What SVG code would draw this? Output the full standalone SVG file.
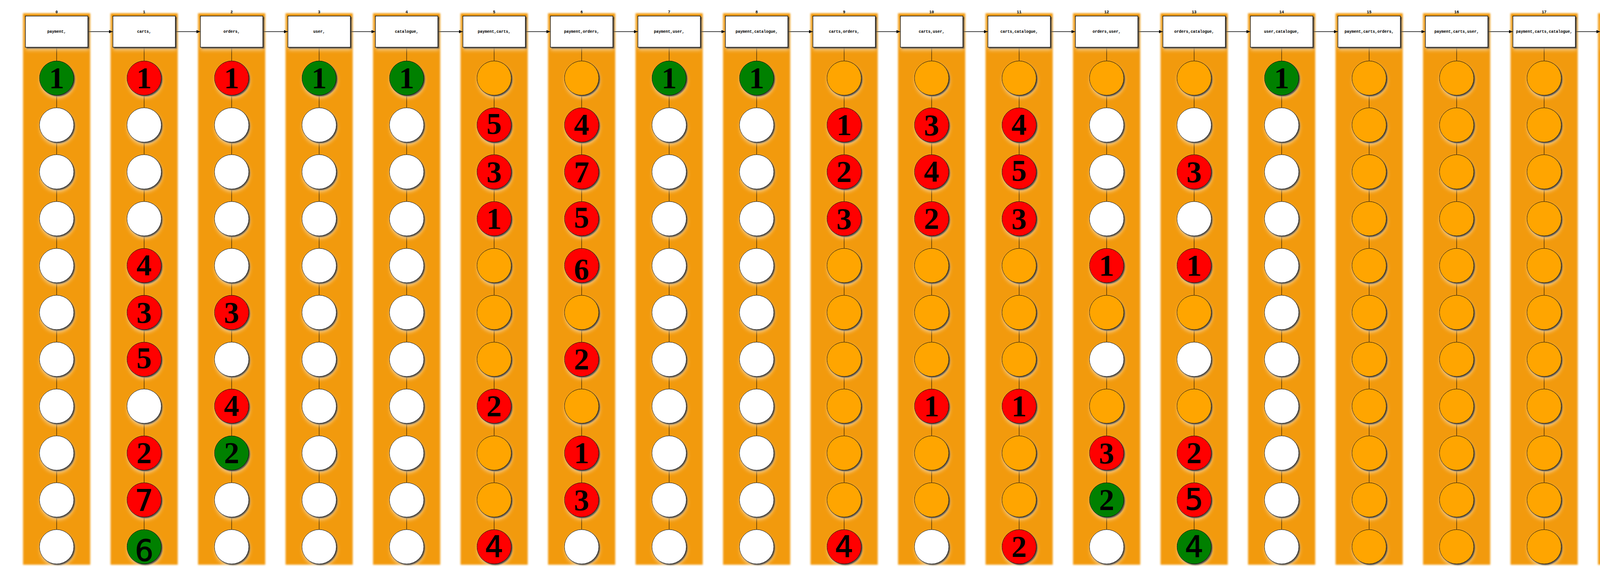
<svg xmlns="http://www.w3.org/2000/svg" width="7008" height="1480" viewBox="0 0 7008 1480">
<style>
.band{fill:#F29A07;filter:url(#bl)}
.cl{font:bold 10px "Liberation Mono",monospace;text-anchor:middle;fill:#000}
.hb{fill:#fff;stroke:#000;stroke-width:1.5;filter:url(#sh)}
.ht{font:bold 10px "Liberation Mono",monospace;text-anchor:middle;fill:#000}
.e{fill:none;stroke:#000;stroke-width:1}
.a{fill:none;stroke:#000;stroke-width:1.4;marker-end:url(#ar)}
circle{stroke:#000;stroke-width:1;filter:url(#sh)}
.w{fill:#fff}.o{fill:#FFA500}.r{fill:#f00}.g{fill:#008000}
.t{font:bold 78px "Liberation Serif",serif;text-anchor:middle;fill:#000}
.u{font:74px "DejaVu Sans",sans-serif;text-anchor:middle;fill:#000;stroke:#000;stroke-width:1.5}
</style>
<defs>
<filter id="bl" x="-10%" y="-2%" width="120%" height="104%"><feGaussianBlur stdDeviation="2.2"/></filter>
<filter id="sh" x="-30%" y="-30%" width="170%" height="170%">
<feGaussianBlur in="SourceAlpha" stdDeviation="5" result="g"/>
<feOffset in="g" dx="2" dy="7" result="go"/>
<feFlood flood-color="#fff" flood-opacity="0.5"/>
<feComposite in2="go" operator="in" result="glow"/>
<feGaussianBlur in="SourceAlpha" stdDeviation="1.5" result="s"/>
<feOffset in="s" dx="3" dy="3" result="so"/>
<feFlood flood-color="#000" flood-opacity="0.85"/>
<feComposite in2="so" operator="in" result="shadow"/>
<feMerge><feMergeNode in="glow"/><feMergeNode in="shadow"/><feMergeNode in="SourceGraphic"/></feMerge>
</filter>
<marker id="ar" markerUnits="userSpaceOnUse" markerWidth="10" markerHeight="8" refX="10" refY="4" orient="auto"><path d="M0,0L10,4L0,8z" fill="#000"/></marker>
</defs>
<rect width="7008" height="1480" fill="#fff"/>
<g id="clusters">
<g id="col0"><rect class="band" x="59" y="34" width="172" height="1412"/><text class="cl" x="145" y="34">0</text></g>
<g id="col1"><rect class="band" x="283" y="34" width="172" height="1412"/><text class="cl" x="369" y="34">1</text></g>
<g id="col2"><rect class="band" x="507" y="34" width="172" height="1412"/><text class="cl" x="593" y="34">2</text></g>
<g id="col3"><rect class="band" x="731" y="34" width="172" height="1412"/><text class="cl" x="817" y="34">3</text></g>
<g id="col4"><rect class="band" x="955" y="34" width="172" height="1412"/><text class="cl" x="1041" y="34">4</text></g>
<g id="col5"><rect class="band" x="1179" y="34" width="172" height="1412"/><text class="cl" x="1265" y="34">5</text></g>
<g id="col6"><rect class="band" x="1403" y="34" width="172" height="1412"/><text class="cl" x="1489" y="34">6</text></g>
<g id="col7"><rect class="band" x="1627" y="34" width="172" height="1412"/><text class="cl" x="1713" y="34">7</text></g>
<g id="col8"><rect class="band" x="1851" y="34" width="172" height="1412"/><text class="cl" x="1937" y="34">8</text></g>
<g id="col9"><rect class="band" x="2075" y="34" width="172" height="1412"/><text class="cl" x="2161" y="34">9</text></g>
<g id="col10"><rect class="band" x="2299" y="34" width="172" height="1412"/><text class="cl" x="2385" y="34">10</text></g>
<g id="col11"><rect class="band" x="2523" y="34" width="172" height="1412"/><text class="cl" x="2609" y="34">11</text></g>
<g id="col12"><rect class="band" x="2747" y="34" width="172" height="1412"/><text class="cl" x="2833" y="34">12</text></g>
<g id="col13"><rect class="band" x="2971" y="34" width="172" height="1412"/><text class="cl" x="3057" y="34">13</text></g>
<g id="col14"><rect class="band" x="3195" y="34" width="172" height="1412"/><text class="cl" x="3281" y="34">14</text></g>
<g id="col15"><rect class="band" x="3419" y="34" width="172" height="1412"/><text class="cl" x="3505" y="34">15</text></g>
<g id="col16"><rect class="band" x="3643" y="34" width="172" height="1412"/><text class="cl" x="3729" y="34">16</text></g>
<g id="col17"><rect class="band" x="3867" y="34" width="172" height="1412"/><text class="cl" x="3953" y="34">17</text></g>
<g id="col18"><rect class="band" x="4091" y="34" width="172" height="1412"/><text class="cl" x="4177" y="34">18</text></g>
<g id="col19"><rect class="band" x="4315" y="34" width="172" height="1412"/><text class="cl" x="4401" y="34">19</text></g>
<g id="col20"><rect class="band" x="4539" y="34" width="172" height="1412"/><text class="cl" x="4625" y="34">20</text></g>
<g id="col21"><rect class="band" x="4763" y="34" width="172" height="1412"/><text class="cl" x="4849" y="34">21</text></g>
<g id="col22"><rect class="band" x="4987" y="34" width="172" height="1412"/><text class="cl" x="5073" y="34">22</text></g>
<g id="col23"><rect class="band" x="5211" y="34" width="172" height="1412"/><text class="cl" x="5297" y="34">23</text></g>
<g id="col24"><rect class="band" x="5435" y="34" width="172" height="1412"/><text class="cl" x="5521" y="34">24</text></g>
<g id="col25"><rect class="band" x="5659" y="34" width="172" height="1412"/><text class="cl" x="5745" y="34">25</text></g>
<g id="col26"><rect class="band" x="5883" y="34" width="172" height="1412"/><text class="cl" x="5969" y="34">26</text></g>
<g id="col27"><rect class="band" x="6107" y="34" width="172" height="1412"/><text class="cl" x="6193" y="34">27</text></g>
<g id="col28"><rect class="band" x="6331" y="34" width="172" height="1412"/><text class="cl" x="6417" y="34">28</text></g>
<g id="col29"><rect class="band" x="6555" y="34" width="172" height="1412"/><text class="cl" x="6641" y="34">29</text></g>
<g id="col30"><rect class="band" x="6779" y="34" width="172" height="1412"/><text class="cl" x="6865" y="34">30</text></g>
</g>
<g id="connectors">
<path class="e" d="M145,121v35m0,88v32m0,88v32m0,88v32m0,88v32m0,88v32m0,88v32m0,88v32m0,88v32m0,88v32m0,88v32"/>
<path class="e" d="M369,121v35m0,88v32m0,88v32m0,88v32m0,88v32m0,88v32m0,88v32m0,88v32m0,88v32m0,88v32m0,88v32"/>
<path class="e" d="M593,121v35m0,88v32m0,88v32m0,88v32m0,88v32m0,88v32m0,88v32m0,88v32m0,88v32m0,88v32m0,88v32"/>
<path class="e" d="M817,121v35m0,88v32m0,88v32m0,88v32m0,88v32m0,88v32m0,88v32m0,88v32m0,88v32m0,88v32m0,88v32"/>
<path class="e" d="M1041,121v35m0,88v32m0,88v32m0,88v32m0,88v32m0,88v32m0,88v32m0,88v32m0,88v32m0,88v32m0,88v32"/>
<path class="e" d="M1265,121v35m0,88v32m0,88v32m0,88v32m0,88v32m0,88v32m0,88v32m0,88v32m0,88v32m0,88v32m0,88v32"/>
<path class="e" d="M1489,121v35m0,88v32m0,88v32m0,88v32m0,88v32m0,88v32m0,88v32m0,88v32m0,88v32m0,88v32m0,88v32"/>
<path class="e" d="M1713,121v35m0,88v32m0,88v32m0,88v32m0,88v32m0,88v32m0,88v32m0,88v32m0,88v32m0,88v32m0,88v32"/>
<path class="e" d="M1937,121v35m0,88v32m0,88v32m0,88v32m0,88v32m0,88v32m0,88v32m0,88v32m0,88v32m0,88v32m0,88v32"/>
<path class="e" d="M2161,121v35m0,88v32m0,88v32m0,88v32m0,88v32m0,88v32m0,88v32m0,88v32m0,88v32m0,88v32m0,88v32"/>
<path class="e" d="M2385,121v35m0,88v32m0,88v32m0,88v32m0,88v32m0,88v32m0,88v32m0,88v32m0,88v32m0,88v32m0,88v32"/>
<path class="e" d="M2609,121v35m0,88v32m0,88v32m0,88v32m0,88v32m0,88v32m0,88v32m0,88v32m0,88v32m0,88v32m0,88v32"/>
<path class="e" d="M2833,121v35m0,88v32m0,88v32m0,88v32m0,88v32m0,88v32m0,88v32m0,88v32m0,88v32m0,88v32m0,88v32"/>
<path class="e" d="M3057,121v35m0,88v32m0,88v32m0,88v32m0,88v32m0,88v32m0,88v32m0,88v32m0,88v32m0,88v32m0,88v32"/>
<path class="e" d="M3281,121v35m0,88v32m0,88v32m0,88v32m0,88v32m0,88v32m0,88v32m0,88v32m0,88v32m0,88v32m0,88v32"/>
<path class="e" d="M3505,121v35m0,88v32m0,88v32m0,88v32m0,88v32m0,88v32m0,88v32m0,88v32m0,88v32m0,88v32m0,88v32"/>
<path class="e" d="M3729,121v35m0,88v32m0,88v32m0,88v32m0,88v32m0,88v32m0,88v32m0,88v32m0,88v32m0,88v32m0,88v32"/>
<path class="e" d="M3953,121v35m0,88v32m0,88v32m0,88v32m0,88v32m0,88v32m0,88v32m0,88v32m0,88v32m0,88v32m0,88v32"/>
<path class="e" d="M4177,121v35m0,88v32m0,88v32m0,88v32m0,88v32m0,88v32m0,88v32m0,88v32m0,88v32m0,88v32m0,88v32"/>
<path class="e" d="M4401,121v35m0,88v32m0,88v32m0,88v32m0,88v32m0,88v32m0,88v32m0,88v32m0,88v32m0,88v32m0,88v32"/>
<path class="e" d="M4625,121v35m0,88v32m0,88v32m0,88v32m0,88v32m0,88v32m0,88v32m0,88v32m0,88v32m0,88v32m0,88v32"/>
<path class="e" d="M4849,121v35m0,88v32m0,88v32m0,88v32m0,88v32m0,88v32m0,88v32m0,88v32m0,88v32m0,88v32m0,88v32"/>
<path class="e" d="M5073,121v35m0,88v32m0,88v32m0,88v32m0,88v32m0,88v32m0,88v32m0,88v32m0,88v32m0,88v32m0,88v32"/>
<path class="e" d="M5297,121v35m0,88v32m0,88v32m0,88v32m0,88v32m0,88v32m0,88v32m0,88v32m0,88v32m0,88v32m0,88v32"/>
<path class="e" d="M5521,121v35m0,88v32m0,88v32m0,88v32m0,88v32m0,88v32m0,88v32m0,88v32m0,88v32m0,88v32m0,88v32"/>
<path class="e" d="M5745,121v35m0,88v32m0,88v32m0,88v32m0,88v32m0,88v32m0,88v32m0,88v32m0,88v32m0,88v32m0,88v32"/>
<path class="e" d="M5969,121v35m0,88v32m0,88v32m0,88v32m0,88v32m0,88v32m0,88v32m0,88v32m0,88v32m0,88v32m0,88v32"/>
<path class="e" d="M6193,121v35m0,88v32m0,88v32m0,88v32m0,88v32m0,88v32m0,88v32m0,88v32m0,88v32m0,88v32m0,88v32"/>
<path class="e" d="M6417,121v35m0,88v32m0,88v32m0,88v32m0,88v32m0,88v32m0,88v32m0,88v32m0,88v32m0,88v32m0,88v32"/>
<path class="e" d="M6641,121v35m0,88v32m0,88v32m0,88v32m0,88v32m0,88v32m0,88v32m0,88v32m0,88v32m0,88v32m0,88v32"/>
<path class="e" d="M6865,121v35m0,88v32m0,88v32m0,88v32m0,88v32m0,88v32m0,88v32m0,88v32m0,88v32m0,88v32m0,88v32"/>
<path class="a" d="M225,81H289"/><path class="a" d="M449,81H513"/><path class="a" d="M673,81H737"/><path class="a" d="M897,81H961"/><path class="a" d="M1121,81H1185"/>
<path class="a" d="M1345,81H1409"/><path class="a" d="M1569,81H1633"/><path class="a" d="M1793,81H1857"/><path class="a" d="M2017,81H2081"/><path class="a" d="M2241,81H2305"/>
<path class="a" d="M2465,81H2529"/><path class="a" d="M2689,81H2753"/><path class="a" d="M2913,81H2977"/><path class="a" d="M3137,81H3201"/><path class="a" d="M3361,81H3425"/>
<path class="a" d="M3585,81H3649"/><path class="a" d="M3809,81H3873"/><path class="a" d="M4033,81H4097"/><path class="a" d="M4257,81H4321"/><path class="a" d="M4481,81H4545"/>
<path class="a" d="M4705,81H4769"/><path class="a" d="M4929,81H4993"/><path class="a" d="M5153,81H5217"/><path class="a" d="M5377,81H5441"/><path class="a" d="M5601,81H5665"/>
<path class="a" d="M5825,81H5889"/><path class="a" d="M6049,81H6113"/><path class="a" d="M6273,81H6337"/><path class="a" d="M6497,81H6561"/><path class="a" d="M6721,81H6785"/>
</g>
<g id="headers">
<g id="h0"><rect class="hb" x="65" y="41" width="160" height="80"/><text class="ht" x="145" y="84">payment,</text></g>
<g id="h1"><rect class="hb" x="289" y="41" width="160" height="80"/><text class="ht" x="369" y="84">carts,</text></g>
<g id="h2"><rect class="hb" x="513" y="41" width="160" height="80"/><text class="ht" x="593" y="84">orders,</text></g>
<g id="h3"><rect class="hb" x="737" y="41" width="160" height="80"/><text class="ht" x="817" y="84">user,</text></g>
<g id="h4"><rect class="hb" x="961" y="41" width="160" height="80"/><text class="ht" x="1041" y="84">catalogue,</text></g>
<g id="h5"><rect class="hb" x="1185" y="41" width="160" height="80"/><text class="ht" x="1265" y="84">payment,carts,</text></g>
<g id="h6"><rect class="hb" x="1409" y="41" width="160" height="80"/><text class="ht" x="1489" y="84">payment,orders,</text></g>
<g id="h7"><rect class="hb" x="1633" y="41" width="160" height="80"/><text class="ht" x="1713" y="84">payment,user,</text></g>
<g id="h8"><rect class="hb" x="1857" y="41" width="160" height="80"/><text class="ht" x="1937" y="84">payment,catalogue,</text></g>
<g id="h9"><rect class="hb" x="2081" y="41" width="160" height="80"/><text class="ht" x="2161" y="84">carts,orders,</text></g>
<g id="h10"><rect class="hb" x="2305" y="41" width="160" height="80"/><text class="ht" x="2385" y="84">carts,user,</text></g>
<g id="h11"><rect class="hb" x="2529" y="41" width="160" height="80"/><text class="ht" x="2609" y="84">carts,catalogue,</text></g>
<g id="h12"><rect class="hb" x="2753" y="41" width="160" height="80"/><text class="ht" x="2833" y="84">orders,user,</text></g>
<g id="h13"><rect class="hb" x="2977" y="41" width="160" height="80"/><text class="ht" x="3057" y="84">orders,catalogue,</text></g>
<g id="h14"><rect class="hb" x="3201" y="41" width="160" height="80"/><text class="ht" x="3281" y="84">user,catalogue,</text></g>
<g id="h15"><rect class="hb" x="3425" y="41" width="160" height="80"/><text class="ht" x="3505" y="84">payment,carts,orders,</text></g>
<g id="h16"><rect class="hb" x="3649" y="41" width="160" height="80"/><text class="ht" x="3729" y="84">payment,carts,user,</text></g>
<g id="h17"><rect class="hb" x="3873" y="41" width="160" height="80"/><text class="ht" x="3953" y="84">payment,carts,catalogue,</text></g>
<g id="h18"><rect class="hb" x="4097" y="41" width="160" height="80"/><text class="ht" x="4177" y="84">payment,orders,user,</text></g>
<g id="h19"><rect class="hb" x="4321" y="41" width="160" height="80"/><text class="ht" x="4401" y="84">payment,orders,catalogue,</text></g>
<g id="h20"><rect class="hb" x="4545" y="41" width="160" height="80"/><text class="ht" x="4625" y="84">payment,user,catalogue,</text></g>
<g id="h21"><rect class="hb" x="4769" y="41" width="160" height="80"/><text class="ht" x="4849" y="84">carts,orders,user,</text></g>
<g id="h22"><rect class="hb" x="4993" y="41" width="160" height="80"/><text class="ht" x="5073" y="84">carts,orders,catalogue,</text></g>
<g id="h23"><rect class="hb" x="5217" y="41" width="160" height="80"/><text class="ht" x="5297" y="84">carts,user,catalogue,</text></g>
<g id="h24"><rect class="hb" x="5441" y="41" width="160" height="80"/><text class="ht" x="5521" y="84">orders,user,catalogue,</text></g>
<g id="h25"><rect class="hb" x="5665" y="41" width="160" height="80"/><text class="ht" x="5745" y="84">payment,carts,orders,user,</text></g>
<g id="h26"><rect class="hb" x="5889" y="41" width="160" height="80"/><text class="ht" x="5969" y="77">payment,carts,orders,catal</text><text class="ht" x="5969" y="90">ogue,</text></g>
<g id="h27"><rect class="hb" x="6113" y="41" width="160" height="80"/><text class="ht" x="6193" y="77">payment,carts,user,catalog</text><text class="ht" x="6193" y="90">ue,</text></g>
<g id="h28"><rect class="hb" x="6337" y="41" width="160" height="80"/><text class="ht" x="6417" y="77">payment,orders,user,catalo</text><text class="ht" x="6417" y="90">gue,</text></g>
<g id="h29"><rect class="hb" x="6561" y="41" width="160" height="80"/><text class="ht" x="6641" y="77">carts,orders,user,catalogu</text><text class="ht" x="6641" y="90">e,</text></g>
<g id="h30"><rect class="hb" x="6785" y="41" width="160" height="80"/><text class="ht" x="6865" y="77">payment,carts,orders,user,</text><text class="ht" x="6865" y="90">catalogue,</text></g>
</g>
<g id="nodes">
<g id="n0_0" transform="translate(145,200)"><circle class="g" r="44"/><text class="t" y="26">1</text></g>
<g id="n0_1" transform="translate(145,320)"><circle class="w" r="44"/></g>
<g id="n0_2" transform="translate(145,440)"><circle class="w" r="44"/></g>
<g id="n0_3" transform="translate(145,560)"><circle class="w" r="44"/></g>
<g id="n0_4" transform="translate(145,680)"><circle class="w" r="44"/></g>
<g id="n0_5" transform="translate(145,800)"><circle class="w" r="44"/></g>
<g id="n0_6" transform="translate(145,920)"><circle class="w" r="44"/></g>
<g id="n0_7" transform="translate(145,1040)"><circle class="w" r="44"/></g>
<g id="n0_8" transform="translate(145,1160)"><circle class="w" r="44"/></g>
<g id="n0_9" transform="translate(145,1280)"><circle class="w" r="44"/></g>
<g id="n0_10" transform="translate(145,1400)"><circle class="w" r="44"/></g>

<g id="n1_0" transform="translate(369,200)"><circle class="r" r="44"/><text class="t" y="26">1</text></g>
<g id="n1_1" transform="translate(369,320)"><circle class="w" r="44"/></g>
<g id="n1_2" transform="translate(369,440)"><circle class="w" r="44"/></g>
<g id="n1_3" transform="translate(369,560)"><circle class="w" r="44"/></g>
<g id="n1_4" transform="translate(369,680)"><circle class="r" r="44"/><text class="t" y="25" font-size="75">4</text></g>
<g id="n1_5" transform="translate(369,800)"><circle class="r" r="44"/><text class="t" y="27" font-size="80">3</text></g>
<g id="n1_6" transform="translate(369,920)"><circle class="r" r="44"/><text class="t" y="23" font-size="69">5</text></g>
<g id="n1_7" transform="translate(369,1040)"><circle class="w" r="44"/></g>
<g id="n1_8" transform="translate(369,1160)"><circle class="r" r="44"/><text class="t" y="26">2</text></g>
<g id="n1_9" transform="translate(369,1280)"><circle class="r" r="44"/><text class="u" y="27">7</text></g>
<g id="n1_10" transform="translate(369,1400)"><circle class="g" r="44"/><text class="u" y="36" font-size="99">6</text></g>

<g id="n2_0" transform="translate(593,200)"><circle class="r" r="44"/><text class="t" y="26">1</text></g>
<g id="n2_1" transform="translate(593,320)"><circle class="w" r="44"/></g>
<g id="n2_2" transform="translate(593,440)"><circle class="w" r="44"/></g>
<g id="n2_3" transform="translate(593,560)"><circle class="w" r="44"/></g>
<g id="n2_4" transform="translate(593,680)"><circle class="w" r="44"/></g>
<g id="n2_5" transform="translate(593,800)"><circle class="r" r="44"/><text class="t" y="27" font-size="80">3</text></g>
<g id="n2_6" transform="translate(593,920)"><circle class="w" r="44"/></g>
<g id="n2_7" transform="translate(593,1040)"><circle class="r" r="44"/><text class="t" y="25" font-size="75">4</text></g>
<g id="n2_8" transform="translate(593,1160)"><circle class="g" r="44"/><text class="t" y="26">2</text></g>
<g id="n2_9" transform="translate(593,1280)"><circle class="w" r="44"/></g>
<g id="n2_10" transform="translate(593,1400)"><circle class="w" r="44"/></g>

<g id="n3_0" transform="translate(817,200)"><circle class="g" r="44"/><text class="t" y="26">1</text></g>
<g id="n3_1" transform="translate(817,320)"><circle class="w" r="44"/></g>
<g id="n3_2" transform="translate(817,440)"><circle class="w" r="44"/></g>
<g id="n3_3" transform="translate(817,560)"><circle class="w" r="44"/></g>
<g id="n3_4" transform="translate(817,680)"><circle class="w" r="44"/></g>
<g id="n3_5" transform="translate(817,800)"><circle class="w" r="44"/></g>
<g id="n3_6" transform="translate(817,920)"><circle class="w" r="44"/></g>
<g id="n3_7" transform="translate(817,1040)"><circle class="w" r="44"/></g>
<g id="n3_8" transform="translate(817,1160)"><circle class="w" r="44"/></g>
<g id="n3_9" transform="translate(817,1280)"><circle class="w" r="44"/></g>
<g id="n3_10" transform="translate(817,1400)"><circle class="w" r="44"/></g>

<g id="n4_0" transform="translate(1041,200)"><circle class="g" r="44"/><text class="t" y="26">1</text></g>
<g id="n4_1" transform="translate(1041,320)"><circle class="w" r="44"/></g>
<g id="n4_2" transform="translate(1041,440)"><circle class="w" r="44"/></g>
<g id="n4_3" transform="translate(1041,560)"><circle class="w" r="44"/></g>
<g id="n4_4" transform="translate(1041,680)"><circle class="w" r="44"/></g>
<g id="n4_5" transform="translate(1041,800)"><circle class="w" r="44"/></g>
<g id="n4_6" transform="translate(1041,920)"><circle class="w" r="44"/></g>
<g id="n4_7" transform="translate(1041,1040)"><circle class="w" r="44"/></g>
<g id="n4_8" transform="translate(1041,1160)"><circle class="w" r="44"/></g>
<g id="n4_9" transform="translate(1041,1280)"><circle class="w" r="44"/></g>
<g id="n4_10" transform="translate(1041,1400)"><circle class="w" r="44"/></g>

<g id="n5_0" transform="translate(1265,200)"><circle class="o" r="44"/></g>
<g id="n5_1" transform="translate(1265,320)"><circle class="r" r="44"/><text class="t" y="23" font-size="69">5</text></g>
<g id="n5_2" transform="translate(1265,440)"><circle class="r" r="44"/><text class="t" y="27" font-size="80">3</text></g>
<g id="n5_3" transform="translate(1265,560)"><circle class="r" r="44"/><text class="t" y="26">1</text></g>
<g id="n5_4" transform="translate(1265,680)"><circle class="o" r="44"/></g>
<g id="n5_5" transform="translate(1265,800)"><circle class="o" r="44"/></g>
<g id="n5_6" transform="translate(1265,920)"><circle class="o" r="44"/></g>
<g id="n5_7" transform="translate(1265,1040)"><circle class="r" r="44"/><text class="t" y="26">2</text></g>
<g id="n5_8" transform="translate(1265,1160)"><circle class="o" r="44"/></g>
<g id="n5_9" transform="translate(1265,1280)"><circle class="o" r="44"/></g>
<g id="n5_10" transform="translate(1265,1400)"><circle class="r" r="44"/><text class="u" y="26" font-size="72">4</text></g>

<g id="n6_0" transform="translate(1489,200)"><circle class="o" r="44"/></g>
<g id="n6_1" transform="translate(1489,320)"><circle class="r" r="44"/><text class="t" y="25" font-size="75">4</text></g>
<g id="n6_2" transform="translate(1489,440)"><circle class="r" r="44"/><text class="t" y="27" font-size="80">7</text></g>
<g id="n6_3" transform="translate(1489,560)"><circle class="r" r="44"/><text class="t" y="23" font-size="69">5</text></g>
<g id="n6_4" transform="translate(1489,680)"><circle class="r" r="44"/><text class="t" y="36" font-size="106">6</text></g>
<g id="n6_5" transform="translate(1489,800)"><circle class="o" r="44"/></g>
<g id="n6_6" transform="translate(1489,920)"><circle class="r" r="44"/><text class="t" y="26">2</text></g>
<g id="n6_7" transform="translate(1489,1040)"><circle class="o" r="44"/></g>
<g id="n6_8" transform="translate(1489,1160)"><circle class="r" r="44"/><text class="t" y="26">1</text></g>
<g id="n6_9" transform="translate(1489,1280)"><circle class="r" r="44"/><text class="t" y="27" font-size="80">3</text></g>
<g id="n6_10" transform="translate(1489,1400)"><circle class="w" r="44"/></g>

<g id="n7_0" transform="translate(1713,200)"><circle class="g" r="44"/><text class="t" y="26">1</text></g>
<g id="n7_1" transform="translate(1713,320)"><circle class="w" r="44"/></g>
<g id="n7_2" transform="translate(1713,440)"><circle class="w" r="44"/></g>
<g id="n7_3" transform="translate(1713,560)"><circle class="w" r="44"/></g>
<g id="n7_4" transform="translate(1713,680)"><circle class="w" r="44"/></g>
<g id="n7_5" transform="translate(1713,800)"><circle class="w" r="44"/></g>
<g id="n7_6" transform="translate(1713,920)"><circle class="w" r="44"/></g>
<g id="n7_7" transform="translate(1713,1040)"><circle class="w" r="44"/></g>
<g id="n7_8" transform="translate(1713,1160)"><circle class="w" r="44"/></g>
<g id="n7_9" transform="translate(1713,1280)"><circle class="w" r="44"/></g>
<g id="n7_10" transform="translate(1713,1400)"><circle class="w" r="44"/></g>

<g id="n8_0" transform="translate(1937,200)"><circle class="g" r="44"/><text class="t" y="26">1</text></g>
<g id="n8_1" transform="translate(1937,320)"><circle class="w" r="44"/></g>
<g id="n8_2" transform="translate(1937,440)"><circle class="w" r="44"/></g>
<g id="n8_3" transform="translate(1937,560)"><circle class="w" r="44"/></g>
<g id="n8_4" transform="translate(1937,680)"><circle class="w" r="44"/></g>
<g id="n8_5" transform="translate(1937,800)"><circle class="w" r="44"/></g>
<g id="n8_6" transform="translate(1937,920)"><circle class="w" r="44"/></g>
<g id="n8_7" transform="translate(1937,1040)"><circle class="w" r="44"/></g>
<g id="n8_8" transform="translate(1937,1160)"><circle class="w" r="44"/></g>
<g id="n8_9" transform="translate(1937,1280)"><circle class="w" r="44"/></g>
<g id="n8_10" transform="translate(1937,1400)"><circle class="w" r="44"/></g>

<g id="n9_0" transform="translate(2161,200)"><circle class="o" r="44"/></g>
<g id="n9_1" transform="translate(2161,320)"><circle class="r" r="44"/><text class="t" y="26">1</text></g>
<g id="n9_2" transform="translate(2161,440)"><circle class="r" r="44"/><text class="t" y="26">2</text></g>
<g id="n9_3" transform="translate(2161,560)"><circle class="r" r="44"/><text class="t" y="27" font-size="80">3</text></g>
<g id="n9_4" transform="translate(2161,680)"><circle class="o" r="44"/></g>
<g id="n9_5" transform="translate(2161,800)"><circle class="o" r="44"/></g>
<g id="n9_6" transform="translate(2161,920)"><circle class="o" r="44"/></g>
<g id="n9_7" transform="translate(2161,1040)"><circle class="o" r="44"/></g>
<g id="n9_8" transform="translate(2161,1160)"><circle class="o" r="44"/></g>
<g id="n9_9" transform="translate(2161,1280)"><circle class="o" r="44"/></g>
<g id="n9_10" transform="translate(2161,1400)"><circle class="r" r="44"/><text class="u" y="26" font-size="72">4</text></g>

<g id="n10_0" transform="translate(2385,200)"><circle class="o" r="44"/></g>
<g id="n10_1" transform="translate(2385,320)"><circle class="r" r="44"/><text class="t" y="27" font-size="80">3</text></g>
<g id="n10_2" transform="translate(2385,440)"><circle class="r" r="44"/><text class="t" y="25" font-size="75">4</text></g>
<g id="n10_3" transform="translate(2385,560)"><circle class="r" r="44"/><text class="t" y="26">2</text></g>
<g id="n10_4" transform="translate(2385,680)"><circle class="o" r="44"/></g>
<g id="n10_5" transform="translate(2385,800)"><circle class="o" r="44"/></g>
<g id="n10_6" transform="translate(2385,920)"><circle class="o" r="44"/></g>
<g id="n10_7" transform="translate(2385,1040)"><circle class="r" r="44"/><text class="t" y="26">1</text></g>
<g id="n10_8" transform="translate(2385,1160)"><circle class="o" r="44"/></g>
<g id="n10_9" transform="translate(2385,1280)"><circle class="o" r="44"/></g>
<g id="n10_10" transform="translate(2385,1400)"><circle class="w" r="44"/></g>

<g id="n11_0" transform="translate(2609,200)"><circle class="o" r="44"/></g>
<g id="n11_1" transform="translate(2609,320)"><circle class="r" r="44"/><text class="t" y="25" font-size="75">4</text></g>
<g id="n11_2" transform="translate(2609,440)"><circle class="r" r="44"/><text class="t" y="23" font-size="69">5</text></g>
<g id="n11_3" transform="translate(2609,560)"><circle class="r" r="44"/><text class="t" y="27" font-size="80">3</text></g>
<g id="n11_4" transform="translate(2609,680)"><circle class="o" r="44"/></g>
<g id="n11_5" transform="translate(2609,800)"><circle class="o" r="44"/></g>
<g id="n11_6" transform="translate(2609,920)"><circle class="o" r="44"/></g>
<g id="n11_7" transform="translate(2609,1040)"><circle class="r" r="44"/><text class="t" y="26">1</text></g>
<g id="n11_8" transform="translate(2609,1160)"><circle class="o" r="44"/></g>
<g id="n11_9" transform="translate(2609,1280)"><circle class="o" r="44"/></g>
<g id="n11_10" transform="translate(2609,1400)"><circle class="r" r="44"/><text class="t" y="26">2</text></g>

<g id="n12_0" transform="translate(2833,200)"><circle class="o" r="44"/></g>
<g id="n12_1" transform="translate(2833,320)"><circle class="w" r="44"/></g>
<g id="n12_2" transform="translate(2833,440)"><circle class="w" r="44"/></g>
<g id="n12_3" transform="translate(2833,560)"><circle class="w" r="44"/></g>
<g id="n12_4" transform="translate(2833,680)"><circle class="r" r="44"/><text class="t" y="26">1</text></g>
<g id="n12_5" transform="translate(2833,800)"><circle class="o" r="44"/></g>
<g id="n12_6" transform="translate(2833,920)"><circle class="w" r="44"/></g>
<g id="n12_7" transform="translate(2833,1040)"><circle class="o" r="44"/></g>
<g id="n12_8" transform="translate(2833,1160)"><circle class="r" r="44"/><text class="t" y="27" font-size="80">3</text></g>
<g id="n12_9" transform="translate(2833,1280)"><circle class="g" r="44"/><text class="t" y="26">2</text></g>
<g id="n12_10" transform="translate(2833,1400)"><circle class="w" r="44"/></g>

<g id="n13_0" transform="translate(3057,200)"><circle class="o" r="44"/></g>
<g id="n13_1" transform="translate(3057,320)"><circle class="w" r="44"/></g>
<g id="n13_2" transform="translate(3057,440)"><circle class="r" r="44"/><text class="t" y="27" font-size="80">3</text></g>
<g id="n13_3" transform="translate(3057,560)"><circle class="w" r="44"/></g>
<g id="n13_4" transform="translate(3057,680)"><circle class="r" r="44"/><text class="t" y="26">1</text></g>
<g id="n13_5" transform="translate(3057,800)"><circle class="o" r="44"/></g>
<g id="n13_6" transform="translate(3057,920)"><circle class="w" r="44"/></g>
<g id="n13_7" transform="translate(3057,1040)"><circle class="o" r="44"/></g>
<g id="n13_8" transform="translate(3057,1160)"><circle class="r" r="44"/><text class="t" y="26">2</text></g>
<g id="n13_9" transform="translate(3057,1280)"><circle class="r" r="44"/><text class="u" y="25" font-size="70">5</text></g>
<g id="n13_10" transform="translate(3057,1400)"><circle class="g" r="44"/><text class="u" y="26" font-size="72">4</text></g>

<g id="n14_0" transform="translate(3281,200)"><circle class="g" r="44"/><text class="t" y="26">1</text></g>
<g id="n14_1" transform="translate(3281,320)"><circle class="w" r="44"/></g>
<g id="n14_2" transform="translate(3281,440)"><circle class="w" r="44"/></g>
<g id="n14_3" transform="translate(3281,560)"><circle class="w" r="44"/></g>
<g id="n14_4" transform="translate(3281,680)"><circle class="w" r="44"/></g>
<g id="n14_5" transform="translate(3281,800)"><circle class="w" r="44"/></g>
<g id="n14_6" transform="translate(3281,920)"><circle class="w" r="44"/></g>
<g id="n14_7" transform="translate(3281,1040)"><circle class="w" r="44"/></g>
<g id="n14_8" transform="translate(3281,1160)"><circle class="w" r="44"/></g>
<g id="n14_9" transform="translate(3281,1280)"><circle class="w" r="44"/></g>
<g id="n14_10" transform="translate(3281,1400)"><circle class="w" r="44"/></g>

<g id="n15_0" transform="translate(3505,200)"><circle class="o" r="44"/></g>
<g id="n15_1" transform="translate(3505,320)"><circle class="o" r="44"/></g>
<g id="n15_2" transform="translate(3505,440)"><circle class="o" r="44"/></g>
<g id="n15_3" transform="translate(3505,560)"><circle class="o" r="44"/></g>
<g id="n15_4" transform="translate(3505,680)"><circle class="o" r="44"/></g>
<g id="n15_5" transform="translate(3505,800)"><circle class="o" r="44"/></g>
<g id="n15_6" transform="translate(3505,920)"><circle class="o" r="44"/></g>
<g id="n15_7" transform="translate(3505,1040)"><circle class="o" r="44"/></g>
<g id="n15_8" transform="translate(3505,1160)"><circle class="o" r="44"/></g>
<g id="n15_9" transform="translate(3505,1280)"><circle class="o" r="44"/></g>
<g id="n15_10" transform="translate(3505,1400)"><circle class="o" r="44"/></g>

<g id="n16_0" transform="translate(3729,200)"><circle class="o" r="44"/></g>
<g id="n16_1" transform="translate(3729,320)"><circle class="o" r="44"/></g>
<g id="n16_2" transform="translate(3729,440)"><circle class="o" r="44"/></g>
<g id="n16_3" transform="translate(3729,560)"><circle class="o" r="44"/></g>
<g id="n16_4" transform="translate(3729,680)"><circle class="o" r="44"/></g>
<g id="n16_5" transform="translate(3729,800)"><circle class="o" r="44"/></g>
<g id="n16_6" transform="translate(3729,920)"><circle class="o" r="44"/></g>
<g id="n16_7" transform="translate(3729,1040)"><circle class="o" r="44"/></g>
<g id="n16_8" transform="translate(3729,1160)"><circle class="o" r="44"/></g>
<g id="n16_9" transform="translate(3729,1280)"><circle class="o" r="44"/></g>
<g id="n16_10" transform="translate(3729,1400)"><circle class="o" r="44"/></g>

<g id="n17_0" transform="translate(3953,200)"><circle class="o" r="44"/></g>
<g id="n17_1" transform="translate(3953,320)"><circle class="o" r="44"/></g>
<g id="n17_2" transform="translate(3953,440)"><circle class="o" r="44"/></g>
<g id="n17_3" transform="translate(3953,560)"><circle class="o" r="44"/></g>
<g id="n17_4" transform="translate(3953,680)"><circle class="o" r="44"/></g>
<g id="n17_5" transform="translate(3953,800)"><circle class="o" r="44"/></g>
<g id="n17_6" transform="translate(3953,920)"><circle class="o" r="44"/></g>
<g id="n17_7" transform="translate(3953,1040)"><circle class="o" r="44"/></g>
<g id="n17_8" transform="translate(3953,1160)"><circle class="o" r="44"/></g>
<g id="n17_9" transform="translate(3953,1280)"><circle class="o" r="44"/></g>
<g id="n17_10" transform="translate(3953,1400)"><circle class="o" r="44"/></g>

<g id="n18_0" transform="translate(4177,200)"><circle class="o" r="44"/></g>
<g id="n18_1" transform="translate(4177,320)"><circle class="o" r="44"/></g>
<g id="n18_2" transform="translate(4177,440)"><circle class="o" r="44"/></g>
<g id="n18_3" transform="translate(4177,560)"><circle class="o" r="44"/></g>
<g id="n18_4" transform="translate(4177,680)"><circle class="o" r="44"/></g>
<g id="n18_5" transform="translate(4177,800)"><circle class="o" r="44"/></g>
<g id="n18_6" transform="translate(4177,920)"><circle class="o" r="44"/></g>
<g id="n18_7" transform="translate(4177,1040)"><circle class="o" r="44"/></g>
<g id="n18_8" transform="translate(4177,1160)"><circle class="o" r="44"/></g>
<g id="n18_9" transform="translate(4177,1280)"><circle class="o" r="44"/></g>
<g id="n18_10" transform="translate(4177,1400)"><circle class="r" r="44"/><text class="t" y="26">1</text></g>

<g id="n19_0" transform="translate(4401,200)"><circle class="o" r="44"/></g>
<g id="n19_1" transform="translate(4401,320)"><circle class="o" r="44"/></g>
<g id="n19_2" transform="translate(4401,440)"><circle class="o" r="44"/></g>
<g id="n19_3" transform="translate(4401,560)"><circle class="o" r="44"/></g>
<g id="n19_4" transform="translate(4401,680)"><circle class="o" r="44"/></g>
<g id="n19_5" transform="translate(4401,800)"><circle class="o" r="44"/></g>
<g id="n19_6" transform="translate(4401,920)"><circle class="o" r="44"/></g>
<g id="n19_7" transform="translate(4401,1040)"><circle class="o" r="44"/></g>
<g id="n19_8" transform="translate(4401,1160)"><circle class="o" r="44"/></g>
<g id="n19_9" transform="translate(4401,1280)"><circle class="o" r="44"/></g>
<g id="n19_10" transform="translate(4401,1400)"><circle class="g" r="44"/><text class="t" y="26">1</text></g>

<g id="n20_0" transform="translate(4625,200)"><circle class="g" r="44"/><text class="t" y="26">1</text></g>
<g id="n20_1" transform="translate(4625,320)"><circle class="w" r="44"/></g>
<g id="n20_2" transform="translate(4625,440)"><circle class="w" r="44"/></g>
<g id="n20_3" transform="translate(4625,560)"><circle class="w" r="44"/></g>
<g id="n20_4" transform="translate(4625,680)"><circle class="w" r="44"/></g>
<g id="n20_5" transform="translate(4625,800)"><circle class="w" r="44"/></g>
<g id="n20_6" transform="translate(4625,920)"><circle class="w" r="44"/></g>
<g id="n20_7" transform="translate(4625,1040)"><circle class="w" r="44"/></g>
<g id="n20_8" transform="translate(4625,1160)"><circle class="w" r="44"/></g>
<g id="n20_9" transform="translate(4625,1280)"><circle class="w" r="44"/></g>
<g id="n20_10" transform="translate(4625,1400)"><circle class="w" r="44"/></g>

<g id="n21_0" transform="translate(4849,200)"><circle class="o" r="44"/></g>
<g id="n21_1" transform="translate(4849,320)"><circle class="o" r="44"/></g>
<g id="n21_2" transform="translate(4849,440)"><circle class="o" r="44"/></g>
<g id="n21_3" transform="translate(4849,560)"><circle class="o" r="44"/></g>
<g id="n21_4" transform="translate(4849,680)"><circle class="o" r="44"/></g>
<g id="n21_5" transform="translate(4849,800)"><circle class="o" r="44"/></g>
<g id="n21_6" transform="translate(4849,920)"><circle class="o" r="44"/></g>
<g id="n21_7" transform="translate(4849,1040)"><circle class="o" r="44"/></g>
<g id="n21_8" transform="translate(4849,1160)"><circle class="o" r="44"/></g>
<g id="n21_9" transform="translate(4849,1280)"><circle class="o" r="44"/></g>
<g id="n21_10" transform="translate(4849,1400)"><circle class="o" r="44"/></g>

<g id="n22_0" transform="translate(5073,200)"><circle class="o" r="44"/></g>
<g id="n22_1" transform="translate(5073,320)"><circle class="o" r="44"/></g>
<g id="n22_2" transform="translate(5073,440)"><circle class="o" r="44"/></g>
<g id="n22_3" transform="translate(5073,560)"><circle class="o" r="44"/></g>
<g id="n22_4" transform="translate(5073,680)"><circle class="o" r="44"/></g>
<g id="n22_5" transform="translate(5073,800)"><circle class="o" r="44"/></g>
<g id="n22_6" transform="translate(5073,920)"><circle class="o" r="44"/></g>
<g id="n22_7" transform="translate(5073,1040)"><circle class="o" r="44"/></g>
<g id="n22_8" transform="translate(5073,1160)"><circle class="o" r="44"/></g>
<g id="n22_9" transform="translate(5073,1280)"><circle class="o" r="44"/></g>
<g id="n22_10" transform="translate(5073,1400)"><circle class="o" r="44"/></g>

<g id="n23_0" transform="translate(5297,200)"><circle class="o" r="44"/></g>
<g id="n23_1" transform="translate(5297,320)"><circle class="o" r="44"/></g>
<g id="n23_2" transform="translate(5297,440)"><circle class="o" r="44"/></g>
<g id="n23_3" transform="translate(5297,560)"><circle class="o" r="44"/></g>
<g id="n23_4" transform="translate(5297,680)"><circle class="o" r="44"/></g>
<g id="n23_5" transform="translate(5297,800)"><circle class="o" r="44"/></g>
<g id="n23_6" transform="translate(5297,920)"><circle class="o" r="44"/></g>
<g id="n23_7" transform="translate(5297,1040)"><circle class="o" r="44"/></g>
<g id="n23_8" transform="translate(5297,1160)"><circle class="o" r="44"/></g>
<g id="n23_9" transform="translate(5297,1280)"><circle class="o" r="44"/></g>
<g id="n23_10" transform="translate(5297,1400)"><circle class="o" r="44"/></g>

<g id="n24_0" transform="translate(5521,200)"><circle class="o" r="44"/></g>
<g id="n24_1" transform="translate(5521,320)"><circle class="r" r="44"/><text class="t" y="26">1</text></g>
<g id="n24_2" transform="translate(5521,440)"><circle class="o" r="44"/></g>
<g id="n24_3" transform="translate(5521,560)"><circle class="r" r="44"/><text class="t" y="26">2</text></g>
<g id="n24_4" transform="translate(5521,680)"><circle class="o" r="44"/></g>
<g id="n24_5" transform="translate(5521,800)"><circle class="o" r="44"/></g>
<g id="n24_6" transform="translate(5521,920)"><circle class="r" r="44"/><text class="t" y="27" font-size="80">3</text></g>
<g id="n24_7" transform="translate(5521,1040)"><circle class="o" r="44"/></g>
<g id="n24_8" transform="translate(5521,1160)"><circle class="o" r="44"/></g>
<g id="n24_9" transform="translate(5521,1280)"><circle class="o" r="44"/></g>
<g id="n24_10" transform="translate(5521,1400)"><circle class="w" r="44"/></g>

<g id="n25_0" transform="translate(5745,200)"><circle class="o" r="44"/></g>
<g id="n25_1" transform="translate(5745,320)"><circle class="o" r="44"/></g>
<g id="n25_2" transform="translate(5745,440)"><circle class="o" r="44"/></g>
<g id="n25_3" transform="translate(5745,560)"><circle class="o" r="44"/></g>
<g id="n25_4" transform="translate(5745,680)"><circle class="o" r="44"/></g>
<g id="n25_5" transform="translate(5745,800)"><circle class="o" r="44"/></g>
<g id="n25_6" transform="translate(5745,920)"><circle class="o" r="44"/></g>
<g id="n25_7" transform="translate(5745,1040)"><circle class="o" r="44"/></g>
<g id="n25_8" transform="translate(5745,1160)"><circle class="o" r="44"/></g>
<g id="n25_9" transform="translate(5745,1280)"><circle class="o" r="44"/></g>
<g id="n25_10" transform="translate(5745,1400)"><circle class="o" r="44"/></g>

<g id="n26_0" transform="translate(5969,200)"><circle class="o" r="44"/></g>
<g id="n26_1" transform="translate(5969,320)"><circle class="o" r="44"/></g>
<g id="n26_2" transform="translate(5969,440)"><circle class="o" r="44"/></g>
<g id="n26_3" transform="translate(5969,560)"><circle class="o" r="44"/></g>
<g id="n26_4" transform="translate(5969,680)"><circle class="o" r="44"/></g>
<g id="n26_5" transform="translate(5969,800)"><circle class="o" r="44"/></g>
<g id="n26_6" transform="translate(5969,920)"><circle class="o" r="44"/></g>
<g id="n26_7" transform="translate(5969,1040)"><circle class="o" r="44"/></g>
<g id="n26_8" transform="translate(5969,1160)"><circle class="o" r="44"/></g>
<g id="n26_9" transform="translate(5969,1280)"><circle class="o" r="44"/></g>
<g id="n26_10" transform="translate(5969,1400)"><circle class="o" r="44"/></g>

<g id="n27_0" transform="translate(6193,200)"><circle class="o" r="44"/></g>
<g id="n27_1" transform="translate(6193,320)"><circle class="o" r="44"/></g>
<g id="n27_2" transform="translate(6193,440)"><circle class="o" r="44"/></g>
<g id="n27_3" transform="translate(6193,560)"><circle class="o" r="44"/></g>
<g id="n27_4" transform="translate(6193,680)"><circle class="o" r="44"/></g>
<g id="n27_5" transform="translate(6193,800)"><circle class="o" r="44"/></g>
<g id="n27_6" transform="translate(6193,920)"><circle class="o" r="44"/></g>
<g id="n27_7" transform="translate(6193,1040)"><circle class="o" r="44"/></g>
<g id="n27_8" transform="translate(6193,1160)"><circle class="o" r="44"/></g>
<g id="n27_9" transform="translate(6193,1280)"><circle class="o" r="44"/></g>
<g id="n27_10" transform="translate(6193,1400)"><circle class="o" r="44"/></g>

<g id="n28_0" transform="translate(6417,200)"><circle class="o" r="44"/></g>
<g id="n28_1" transform="translate(6417,320)"><circle class="o" r="44"/></g>
<g id="n28_2" transform="translate(6417,440)"><circle class="o" r="44"/></g>
<g id="n28_3" transform="translate(6417,560)"><circle class="o" r="44"/></g>
<g id="n28_4" transform="translate(6417,680)"><circle class="o" r="44"/></g>
<g id="n28_5" transform="translate(6417,800)"><circle class="o" r="44"/></g>
<g id="n28_6" transform="translate(6417,920)"><circle class="o" r="44"/></g>
<g id="n28_7" transform="translate(6417,1040)"><circle class="o" r="44"/></g>
<g id="n28_8" transform="translate(6417,1160)"><circle class="o" r="44"/></g>
<g id="n28_9" transform="translate(6417,1280)"><circle class="o" r="44"/></g>
<g id="n28_10" transform="translate(6417,1400)"><circle class="o" r="44"/></g>

<g id="n29_0" transform="translate(6641,200)"><circle class="o" r="44"/></g>
<g id="n29_1" transform="translate(6641,320)"><circle class="o" r="44"/></g>
<g id="n29_2" transform="translate(6641,440)"><circle class="o" r="44"/></g>
<g id="n29_3" transform="translate(6641,560)"><circle class="o" r="44"/></g>
<g id="n29_4" transform="translate(6641,680)"><circle class="o" r="44"/></g>
<g id="n29_5" transform="translate(6641,800)"><circle class="o" r="44"/></g>
<g id="n29_6" transform="translate(6641,920)"><circle class="o" r="44"/></g>
<g id="n29_7" transform="translate(6641,1040)"><circle class="o" r="44"/></g>
<g id="n29_8" transform="translate(6641,1160)"><circle class="o" r="44"/></g>
<g id="n29_9" transform="translate(6641,1280)"><circle class="o" r="44"/></g>
<g id="n29_10" transform="translate(6641,1400)"><circle class="o" r="44"/></g>

<g id="n30_0" transform="translate(6865,200)"><circle class="o" r="44"/></g>
<g id="n30_1" transform="translate(6865,320)"><circle class="o" r="44"/></g>
<g id="n30_2" transform="translate(6865,440)"><circle class="o" r="44"/></g>
<g id="n30_3" transform="translate(6865,560)"><circle class="o" r="44"/></g>
<g id="n30_4" transform="translate(6865,680)"><circle class="o" r="44"/></g>
<g id="n30_5" transform="translate(6865,800)"><circle class="o" r="44"/></g>
<g id="n30_6" transform="translate(6865,920)"><circle class="o" r="44"/></g>
<g id="n30_7" transform="translate(6865,1040)"><circle class="o" r="44"/></g>
<g id="n30_8" transform="translate(6865,1160)"><circle class="o" r="44"/></g>
<g id="n30_9" transform="translate(6865,1280)"><circle class="o" r="44"/></g>
<g id="n30_10" transform="translate(6865,1400)"><circle class="o" r="44"/></g>
</g>
</svg>
